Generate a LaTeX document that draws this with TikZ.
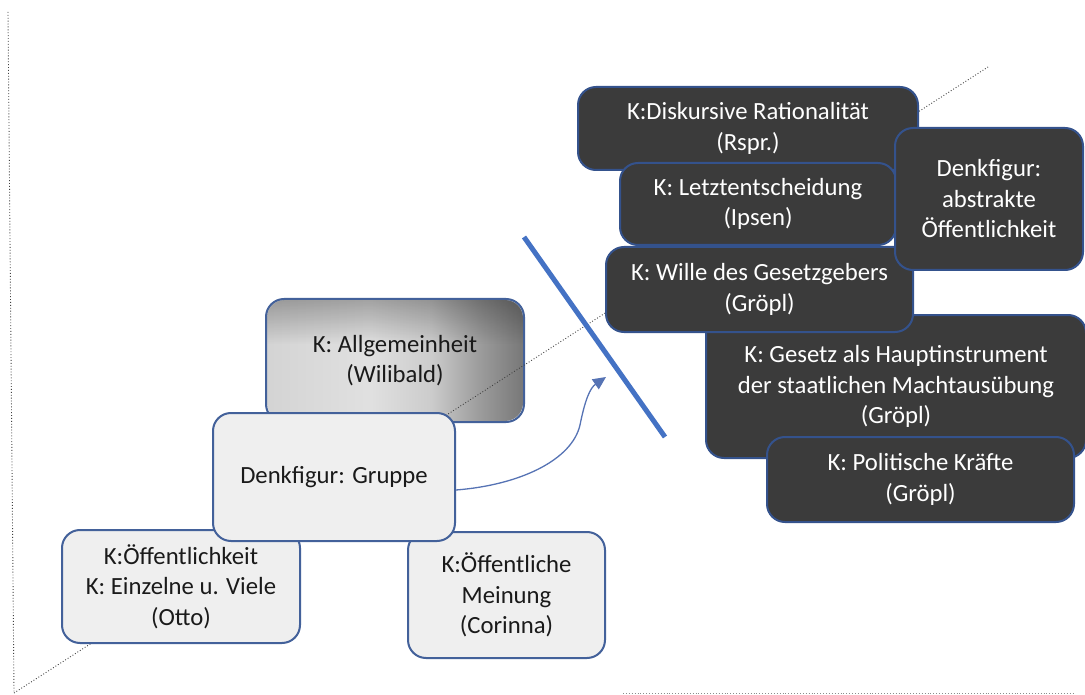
\documentclass[tikz,border=0pt]{standalone}
\usepackage{fontspec}
\setmainfont{Carlito}
\usetikzlibrary{arrows.meta,fadings}

\definecolor{darkfill}{HTML}{3B3B3B}
\definecolor{darkedge}{HTML}{34528C}
\definecolor{lightfill}{HTML}{EFEFEF}
\definecolor{lightedge}{HTML}{43619A}
\definecolor{accent}{HTML}{4472C4}
\definecolor{arrowblue}{HTML}{5673B4}
\definecolor{txt}{HTML}{1A1A1A}

% grey gradient of the "Allgemeinheit" box (path mapped onto 25bp..75bp)
\pgfdeclarehorizontalshading{allgshade}{100bp}{%
  color(0bp)=(white!83!black);
  color(25bp)=(white!83!black);
  color(45bp)=(white!88!black);
  color(57bp)=(white!80!black);
  color(66bp)=(white!62!black);
  color(75bp)=(white!47!black);
  color(100bp)=(white!47!black)}

\tikzset{
  boxbase/.style={rounded corners=18pt, line width=2pt, inner sep=0pt,
    align=center, font=\fontsize{24.7}{30.5}\selectfont},
  darkbox/.style={boxbase, fill=darkfill, draw=darkedge, text=white},
  lightbox/.style={boxbase, fill=lightfill, draw=lightedge, text=txt},
  axisline/.style={dotted, line width=0.9pt, black!75},
  faintaxis/.style={dotted, line width=0.9pt, black!45},
  flowarrow/.style={arrowblue, line width=1.3pt,
    -{Triangle[length=13pt,width=12pt]}},
  divider/.style={accent, line width=5pt}
}

\begin{document}
\begin{tikzpicture}[x=1pt,y=-1pt]
\useasboundingbox (0,0) rectangle (1085,695);

% axes of the sketch
\coordinate (ytop) at (8,12);
\coordinate (origin) at (14,693);
\coordinate (xstart) at (623,693);
\coordinate (xend) at (1075,693);
\coordinate (diagend) at (988,67);
\draw[axisline] (ytop) -- (origin);
\draw[faintaxis] (xstart) -- (xend);

% shaded concept box, darker towards its top edge
\node[boxbase, shading=allgshade, text=txt,
      minimum width=256pt, minimum height=121pt]
  (allg) at (395,360.5) {K: Allgemeinheit\\(Wilibald)};
\begin{scope}
  \clip[rounded corners=18pt] (allg.north west) rectangle (allg.south east);
  \fill[black, fill opacity=0.28, path fading=south]
    (allg.north west) rectangle ([yshift=-45pt]allg.north east);
\end{scope}
\draw[lightedge, line width=2pt, rounded corners=18pt]
  (allg.north west) rectangle (allg.south east);

% diagonal
\draw[axisline] (origin) -- (diagend);

% light boxes
\node[lightbox, minimum width=238pt, minimum height=113pt]
  (oeff) at (181,586.5) {K:Öffentlichkeit\\K: Einzelne u. Viele\\(Otto)};
\node[lightbox, minimum width=197pt, minimum height=126pt]
  (mein) at (506.5,595) {K:Öffentliche\\Meinung\\(Corinna)};
\node[lightbox, minimum width=242pt, minimum height=128pt]
  (grup) at (334,477) {Denkfigur: Gruppe};

% arrow and divider
\coordinate (tip) at (606,377);
\coordinate (bend) at (580,425);
\draw[flowarrow] ([yshift=-13pt]grup.east)
  .. controls (520,485) and (572,460) .. (bend)
  .. controls (585,400) and (590,388) .. (tip);
\coordinate (cutA) at (524,237);
\coordinate (cutB) at (665,437);
\draw[divider] (cutA) -- (cutB);

% dark boxes
\node[darkbox, minimum width=340pt, minimum height=83pt]
  (disk) at (748,128.5) {K:Diskursive Rationalität\\(Rspr.)};
\node[darkbox, minimum width=276pt, minimum height=82pt]
  (letzt) at (758,204) {K: Letztentscheidung\\(Ipsen)};
\node[darkbox, minimum width=380pt, minimum height=143pt]
  (gesetz) at (896,386.5) {K: Gesetz als Hauptinstrument\\der staatlichen Machtausübung\\(Gröpl)};
\node[darkbox, minimum width=307pt, minimum height=85pt]
  (wille) at (759.5,289.5) {K: Wille des Gesetzgebers\\(Gröpl)};
\node[darkbox, minimum width=188pt, minimum height=142pt]
  (denk) at (989,199) {Denkfigur:\\abstrakte\\Öffentlichkeit};
\node[darkbox, minimum width=307pt, minimum height=85pt]
  (polit) at (920.5,479.5) {K: Politische Kräfte\\(Gröpl)};
\end{tikzpicture}
\end{document}
